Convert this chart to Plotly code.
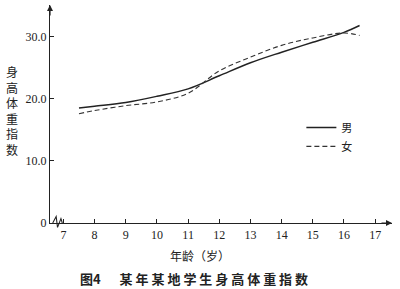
import plotly.graph_objects as go

ages = [7.5, 8, 9, 10, 11, 12, 13, 14, 15, 16, 16.5]
male = [18.5, 18.8, 19.4, 20.4, 21.6, 23.7, 25.8, 27.5, 29.1, 30.7, 31.8]
female = [17.6, 18.1, 18.9, 19.5, 20.9, 24.5, 26.7, 28.6, 29.8, 30.6, 30.2]
x_ticks = [7, 8, 9, 10, 11, 12, 13, 14, 15, 16, 17]
y_ticks = [0, 10, 20, 30]
y_ticktext = ["0", "10.0", "20.0", "30.0"]

serif = "Liberation Serif, DejaVu Serif, serif"
cjk = "Noto Sans CJK SC"

fig = go.Figure()
fig.add_trace(go.Scatter(x=ages, y=male, mode="lines", name="男",
                         line=dict(color="#222", width=1.5, shape="spline")))
fig.add_trace(go.Scatter(x=ages, y=female, mode="lines", name="女",
                         line=dict(color="#333", width=1.1, dash="5px,3px", shape="spline")))

fig.update_layout(
    width=400, height=289,
    margin=dict(l=50, r=8, t=5, b=66),
    paper_bgcolor="white", plot_bgcolor="white",
    showlegend=True,
    legend=dict(x=0.735, y=0.505, xanchor="left", yanchor="top",
                font=dict(family=cjk, size=11, color="#222"),
                bgcolor="rgba(0,0,0,0)", itemwidth=30, tracegroupgap=0),
    xaxis=dict(range=[6.57, 17.54], tickvals=x_ticks, showgrid=False, zeroline=False,
               showline=True, linecolor="#222", linewidth=1.2,
               ticks="inside", ticklen=4, tickcolor="#222",
               tickfont=dict(family=serif, size=12, color="#222")),
    yaxis=dict(range=[0, 35.1], tickvals=y_ticks, ticktext=y_ticktext, showgrid=False,
               zeroline=False, showline=True, linecolor="#222", linewidth=1.2,
               ticks="inside", ticklen=4, tickcolor="#222",
               tickfont=dict(family=serif, size=12, color="#222")),
    annotations=[
        dict(xref="paper", yref="paper", x=0, y=1, ax=0, ay=12, text="",
             showarrow=True, arrowhead=2, arrowsize=1, arrowwidth=1.2, arrowcolor="#222"),
        dict(xref="paper", yref="paper", x=1, y=0, ax=-12, ay=0, text="",
             showarrow=True, arrowhead=2, arrowsize=1, arrowwidth=1.2, arrowcolor="#222"),
        dict(xref="paper", yref="paper", x=-0.11, y=0.515, xanchor="center", yanchor="middle",
             text="身<br>高<br>体<br>重<br>指<br>数", showarrow=False,
             font=dict(family=cjk, size=12, color="#222")),
        dict(xref="paper", yref="paper", x=0.44, y=-0.1, xanchor="center", yanchor="top",
             text="年龄（岁）", showarrow=False,
             font=dict(family=cjk, size=12, color="#222")),
        dict(xref="paper", yref="paper", x=0.42, y=-0.2, xanchor="center", yanchor="top",
             text="<b>图4　  某 年 某 地 学 生 身 高 体 重 指 数</b>", showarrow=False,
             font=dict(family=cjk, size=13, color="#222")),
    ],
    shapes=[
        dict(type="path", xref="paper", yref="paper",
             path="M 0.008 0.0 L 0.018 0.03 L 0.022 -0.02 L 0.032 0.02 L 0.036 0.0",
             line=dict(color="#222", width=1.1)),
    ],
)

fig.write_html("out.html")
